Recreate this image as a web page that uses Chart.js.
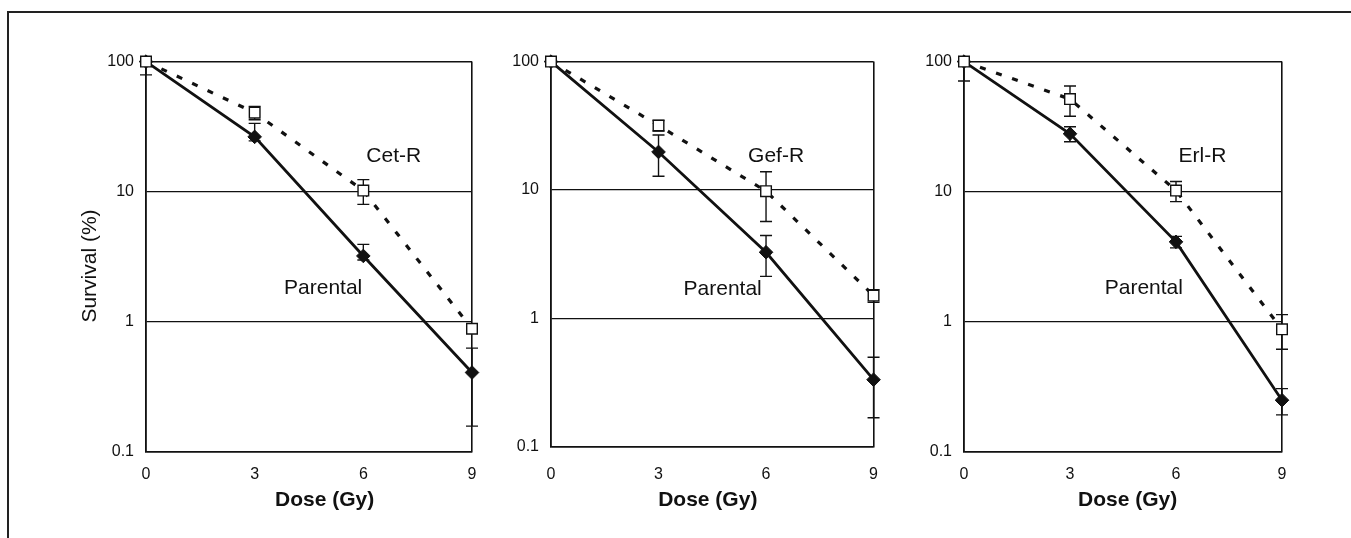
<!DOCTYPE html>
<html>
<head>
<meta charset="utf-8">
<script src="https://cdn.jsdelivr.net/npm/chart.js@4.4.0/dist/chart.umd.min.js"></script>
<style>
	html, body { margin: 0; padding: 0; background: #fff; overflow: hidden; }
	body { width: 1351px; height: 538px; position: relative; }
	#frame { position: absolute; left: 7px; top: 11px; width: 1400px; height: 600px; border-top: 2px solid #222; border-left: 2px solid #222; }
	.panel { position: absolute; top: 40px; height: 490px; }
	.panel canvas { display: block; }
</style>
</head>
<body>
<div id="frame"></div>
<div class="panel" style="left:20px;width:470px"><canvas id="cet"></canvas></div>
<div class="panel" style="left:500px;width:396px"><canvas id="gef"></canvas></div>
<div class="panel" style="left:915px;width:385px"><canvas id="erl"></canvas></div>
<script>
const FONT = '"Liberation Sans", Arial, Helvetica, sans-serif';

const doses = [0, 3, 6, 9];
const xTicks = [0, 3, 6, 9];
const yTicks = [0.1, 1, 10, 100];

// cetuximab panel
const cetParental = [100, 26.4, 3.21, 0.408];
const cetParentalUp = [21, 7.1, 0.73, 0.22];
const cetParentalDown = [21, 1.8, 0.22, 0.25];
const cetResistant = [100, 40.5, 10.2, 0.885];
const cetResistantErr = [0, 4.8, 2.2, 0];

// gefitinib panel
const gefParental = [100, 19.8, 3.28, 0.334];
const gefParentalErr = [0, 7, 1.15, 0.165];
const gefResistant = [100, 31.8, 9.8, 1.51];
const gefResistantErr = [0, 3, 4.1, 0.17];

// erlotinib panel
const erlParental = [100, 27.9, 4.12, 0.25];
const erlParentalErr = [29, 3.7, 0.42, 0.057];
const erlResistant = [100, 51.5, 10.2, 0.876];
const erlResistantErr = [0, 13.5, 1.8, 0.26];

function points(values) {
	return doses.map((d, i) => ({ x: d, y: values[i] }));
}

// vertical error bars, drawn under the lines and markers
const errorBars = {
	id: 'errorBars',
	beforeDatasetsDraw(chart) {
		const { ctx, chartArea } = chart;
		const yScale = chart.scales.y;
		ctx.save();
		ctx.beginPath();
		ctx.rect(0, chartArea.top - 0.5, chart.width, chartArea.bottom - chartArea.top + 1);
		ctx.clip();
		ctx.strokeStyle = '#111';
		ctx.lineWidth = 1.4;
		chart.data.datasets.forEach((ds, i) => {
			const meta = chart.getDatasetMeta(i);
			meta.data.forEach((pt, j) => {
				const v = ds.data[j].y;
				const up = ds.errUp[j], down = ds.errDown[j];
				if (!up && !down) return;
				const hi = yScale.getPixelForValue(v + up);
				const lo = yScale.getPixelForValue(Math.max(v - down, 1e-4));
				ctx.beginPath();
				ctx.moveTo(pt.x, hi);
				ctx.lineTo(pt.x, lo);
				ctx.moveTo(pt.x - 6, hi);
				ctx.lineTo(pt.x + 6, hi);
				ctx.moveTo(pt.x - 6, lo);
				ctx.lineTo(pt.x + 6, lo);
				ctx.stroke();
			});
		});
		ctx.restore();
	}
};

// in-plot labels and axis captions
const captions = {
	id: 'captions',
	afterDraw(chart, args, opts) {
		const { ctx, chartArea } = chart;
		const { x, y } = chart.scales;
		ctx.save();
		ctx.fillStyle = '#111';
		ctx.textAlign = 'center';
		ctx.textBaseline = 'middle';
		ctx.font = '21px ' + FONT;
		opts.notes.forEach(n => {
			ctx.fillText(n.text, x.getPixelForValue(n.x), y.getPixelForValue(n.y));
		});
		ctx.font = 'bold 21px ' + FONT;
		ctx.fillText('Dose (Gy)', (chartArea.left + chartArea.right) / 2 + opts.xTitleShift, opts.xTitleY);
		if (opts.yTitle) {
			ctx.translate(opts.yTitleX, opts.yTitleY);
			ctx.rotate(-Math.PI / 2);
			ctx.font = '21px ' + FONT;
			ctx.fillText(opts.yTitle, 0, 0);
		}
		ctx.restore();
	}
};

function makePanel(id, cfg) {
	const data = {
		datasets: [
			{
				label: cfg.name,
				data: points(cfg.resistant),
				errUp: cfg.resistantUp,
				errDown: cfg.resistantDown,
				borderColor: '#111',
				borderWidth: 3.2,
				borderDash: [6, 11],
				borderCapStyle: 'butt',
				pointStyle: 'rect',
				pointRadius: 7.5,
				pointBackgroundColor: '#fff',
				pointBorderColor: '#111',
				pointBorderWidth: 1.4,
				tension: 0,
				fill: false,
				clip: false,
			},
			{
				label: 'Parental',
				data: points(cfg.parental),
				errUp: cfg.parentalUp,
				errDown: cfg.parentalDown,
				borderColor: '#111',
				borderWidth: 2.8,
				pointStyle: 'rectRot',
				pointRadius: 6.8,
				pointBackgroundColor: '#111',
				pointBorderColor: '#111',
				pointBorderWidth: 1,
				tension: 0,
				fill: false,
				clip: false,
			},
		],
	};

	const config = {
		type: 'line',
		data,
		plugins: [errorBars, captions],
		options: {
			responsive: true,
			maintainAspectRatio: false,
			animation: false,
			layout: { padding: { top: cfg.padTop, right: cfg.padRight, left: 0, bottom: 0 } },
			plugins: {
				legend: { display: false },
				tooltip: { enabled: false },
				captions: {
					notes: cfg.notes,
					xTitleShift: cfg.xTitleShift,
					xTitleY: 460,
					yTitle: cfg.yTitle,
					yTitleX: 70.7,
					yTitleY: 226,
				},
			},
			scales: {
				x: {
					type: 'linear',
					min: 0,
					max: 9,
					afterBuildTicks: s => { s.ticks = xTicks.map(v => ({ value: v })); },
					afterFit: s => { s.height = cfg.xAxisHeight; },
					grid: {
						drawTicks: false,
						color: c => (c.tick && (c.tick.value === 0 || c.tick.value === 9)) ? '#111' : 'rgba(0,0,0,0)',
						lineWidth: 1.6,
					},
					border: { display: true, color: '#111', width: 1.6 },
					ticks: { padding: cfg.xTickPad, color: '#111', font: { family: FONT, size: 16 } },
				},
				y: {
					type: 'logarithmic',
					min: 0.1,
					max: 100,
					afterBuildTicks: s => { s.ticks = yTicks.map(v => ({ value: v })); },
					afterFit: s => { s.width = cfg.yAxisWidth; },
					grid: {
						drawTicks: false,
						color: '#111',
						lineWidth: c => (c.tick && (c.tick.value === 1 || c.tick.value === 10)) ? 1.2 : 1.6,
					},
					border: { display: true, color: '#111', width: 1.6 },
					ticks: {
						padding: 12,
						color: '#111',
						font: { family: FONT, size: 16 },
						callback: v => String(v),
					},
				},
			},
		},
	};

	return new Chart(document.getElementById(id), config);
}

const charts = {};

charts.cet = makePanel('cet', {
	name: 'Cet-R',
	parental: cetParental, parentalUp: cetParentalUp, parentalDown: cetParentalDown,
	resistant: cetResistant, resistantUp: cetResistantErr, resistantDown: cetResistantErr,
	notes: [{ text: 'Cet-R', x: 6.84, y: 18.7 }, { text: 'Parental', x: 4.89, y: 1.82 }],
	padTop: 19, padRight: 18, yAxisWidth: 126, xAxisHeight: 78, xTickPad: 13,
	xTitleShift: 15.6, yTitle: 'Survival (%)',
});

// the last tick label plus its padding sets this panel's right gap (~22px)
charts.gef = makePanel('gef', {
	name: 'Gef-R',
	parental: gefParental, parentalUp: gefParentalErr, parentalDown: gefParentalErr,
	resistant: gefResistant, resistantUp: gefResistantErr, resistantDown: gefResistantErr,
	notes: [{ text: 'Gef-R', x: 6.28, y: 18.3 }, { text: 'Parental', x: 4.79, y: 1.7 }],
	padTop: 19, padRight: 16, yAxisWidth: 51, xAxisHeight: 83, xTickPad: 18,
	xTitleShift: -4.5, yTitle: null,
});

charts.erl = makePanel('erl', {
	name: 'Erl-R',
	parental: erlParental, parentalUp: erlParentalErr, parentalDown: erlParentalErr,
	resistant: erlResistant, resistantUp: erlResistantErr, resistantDown: erlResistantErr,
	notes: [{ text: 'Erl-R', x: 6.75, y: 18.6 }, { text: 'Parental', x: 5.09, y: 1.8 }],
	padTop: 20, padRight: 18, yAxisWidth: 49, xAxisHeight: 78, xTickPad: 13,
	xTitleShift: 4.7, yTitle: null,
});
</script>
</body>
</html>
